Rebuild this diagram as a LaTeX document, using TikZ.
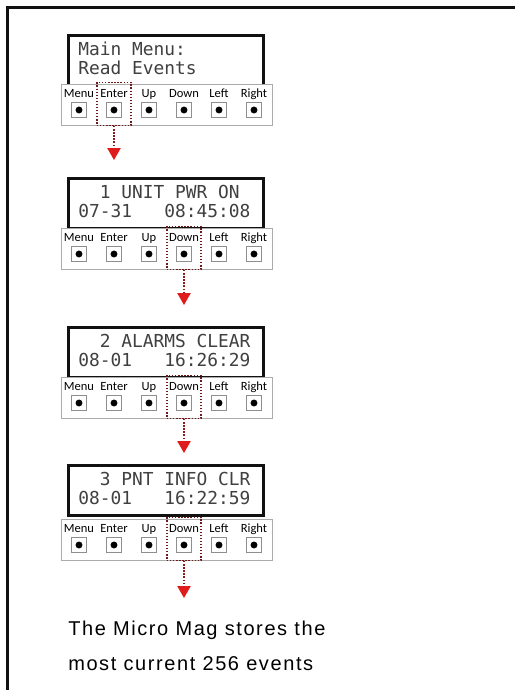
\documentclass[tikz,border=0pt]{standalone}
\usepackage{fontspec}
\setmainfont{Carlito}
\newfontfamily\lcdfont{DejaVu Sans Mono}
\newfontfamily\notefont[LetterSpace=8]{Liberation Sans}
\usepackage{tikz}
\usetikzlibrary{arrows.meta}
\definecolor{frame}{HTML}{111111}
\definecolor{barline}{HTML}{ABABAB}
\definecolor{keyline}{HTML}{8E8E8E}
\definecolor{selred}{HTML}{6E1818}
\definecolor{arrowred}{HTML}{E01B1B}

\tikzset{
  lcdbox/.style={draw=frame,line width=1.9pt,fill=white,inner sep=0pt,
    minimum width=146.25pt,minimum height=37.5pt,anchor=north west},
  lcdline/.style={inner sep=0pt,anchor=base west,text=black!75,
    font=\lcdfont\fontsize{13.4}{14}\selectfont},
  keybar/.style={draw=barline,line width=0.6pt,fill=white,inner sep=0pt,
    minimum width=158.25pt,minimum height=30.75pt,anchor=north west},
  keybox/.style={draw=keyline,line width=0.5pt,inner sep=0pt,
    minimum size=11.25pt},
  keydot/.style={fill=black,circle,inner sep=0pt,minimum size=5.2pt},
  keylabel/.style={inner sep=0pt,anchor=base,
    font=\fontsize{9.4}{11}\selectfont},
  selbox/.style={draw=selred,line width=1.2pt,dash pattern=on 1pt off 1.3pt,
    inner sep=0pt,minimum width=25.5pt,minimum height=32pt},
  selarrow/.style={draw=selred!70!arrowred,line width=1.2pt,
    dash pattern=on 1pt off 1.3pt,
    -{Triangle[length=9pt,width=10pt,color=arrowred]}},
  note/.style={inner sep=0pt,anchor=base west,
    font=\notefont\fontsize{15}{18}\selectfont}
}

\begin{document}
\begin{tikzpicture}[x=0.75pt,y=-0.75pt]
  \useasboundingbox (0,0) rectangle (515,690);
  % outer frame, cut at the right and at the bottom
  \draw[frame,line width=2pt] (7.3,690) -- (7.3,7.3) -- (515,7.3);

  % one display with its key row per step
  \foreach \i/\lcdtop/\bartop/\tipy/\sel/\lineA/\lineB in {
      1/34/84/160/2/{Main Menu:}/{Read Events},
      2/177/228/305/4/{~~1 UNIT PWR ON}/{07-31~~~08:45:08},
      3/326/377/453/4/{~~2 ALARMS CLEAR}/{08-01~~~16:26:29},
      4/464/519/598/4/{~~3 PNT INFO CLR}/{08-01~~~16:22:59}} {
    \node[lcdbox] (lcd\i) at (67,\lcdtop) {};
    \node[lcdline] (lcdA\i) at (78,\lcdtop+21) {\lineA};
    \node[lcdline] (lcdB\i) at (78,\lcdtop+40) {\lineB};
    \node[keybar] (bar\i) at (61,\bartop) {};
    \foreach \k/\lab in {1/Menu,2/Enter,3/Up,4/Down,5/Left,6/Right} {
      \node[keylabel] (lab\i\k) at (44+35*\k,\bartop+13) {\lab};
      \node[keybox] (key\i\k) at (44+35*\k,\bartop+26) {};
      \node[keydot] (dot\i\k) at (key\i\k.center) {};
    }
    \node[selbox] (sel\i) at (44+35*\sel,\bartop+20) {};
    \coordinate (tip\i) at (44+35*\sel,\tipy);
    \draw[selarrow] (sel\i.south) -- (tip\i);
  }

  \node[note] (note1) at (68,635) {The Micro Mag stores the};
  \node[note] (note2) at (68,670) {most current 256 events};
\end{tikzpicture}
\end{document}
